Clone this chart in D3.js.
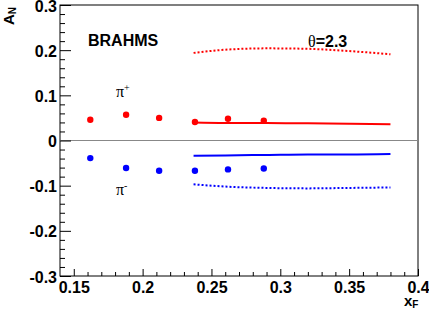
<!DOCTYPE html>
<html>
<head>
<meta charset="utf-8">
<script src="https://cdn.jsdelivr.net/npm/d3@7"></script>
<style>
  body { margin: 0; background: #fff; }
  text { font-family: "Liberation Sans", Arial, sans-serif; }
</style>
</head>
<body>
<div id="chart"></div>
<script>
// data
var xF = [0.162, 0.188, 0.212, 0.238, 0.262, 0.288];
var piPlus = [0.046, 0.057, 0.050, 0.041, 0.048, 0.044];
var piMinus = [-0.039, -0.061, -0.067, -0.067, -0.064, -0.062];
var errPlus = [0.004, 0.004, 0.004, 0.004, 0.004, 0.004];
var errMinus = [0.004, 0.004, 0.004, 0.004, 0.004, 0.004];

var curveX = [0.237, 0.26, 0.29, 0.32, 0.35, 0.38];
var plusSolid = [0.040, 0.039, 0.039, 0.038, 0.037, 0.036];
var plusDotted = [0.194, 0.201, 0.204, 0.203, 0.198, 0.191];
var minusSolid = [-0.034, -0.033, -0.032, -0.031, -0.031, -0.030];
var minusDotted = [-0.097, -0.102, -0.105, -0.106, -0.105, -0.104];

var xMajor = [0.15, 0.2, 0.25, 0.3, 0.35, 0.4];
var yMajor = [-0.3, -0.2, -0.1, 0, 0.1, 0.2, 0.3];
var yLabels = ["-0.3", "-0.2", "-0.1", "0", "0.1", "0.2", "0.3"];

// set the dimensions and margins of the graph
var margin = {top: 5, right: 11, bottom: 34, left: 60},
    width = 429 - margin.left - margin.right,
    height = 310 - margin.top - margin.bottom;

var x = d3.scaleLinear().domain([0.14, 0.4]).range([0, width]);
var y = d3.scaleLinear().domain([-0.3, 0.3]).range([height, 0]);

var svg = d3.select("#chart").append("svg")
    .attr("width", 429)
    .attr("height", 310);
var g = svg.append("g")
    .attr("transform", "translate(" + margin.left + "," + margin.top + ")");

// frame
g.append("rect")
    .attr("x", 0).attr("y", 0)
    .attr("width", width).attr("height", height)
    .attr("fill", "none").attr("stroke", "#000").attr("stroke-width", 1);

// zero line
g.append("line")
    .attr("x1", 0).attr("x2", width)
    .attr("y1", y(0)).attr("y2", y(0))
    .attr("stroke", "#888").attr("stroke-width", 1);

// x axis: major + minor ticks
var xMinor = d3.range(15, 40).map(function(d) { return d / 100; })
    .filter(function(d) { return Math.round(d * 100) % 5 != 0; });
var xAxisG = g.append("g").attr("transform", "translate(0," + height + ")");
xAxisG.call(d3.axisBottom(x).tickValues(xMajor).tickSize(-7).tickPadding(5)
    .tickFormat(function(d) { return String(d); }));
xAxisG.append("g").call(d3.axisBottom(x).tickValues(xMinor).tickSize(-4).tickFormat(""));

// y axis
var yMinor = d3.range(-29, 30).map(function(d) { return d / 100; })
    .filter(function(d) { return Math.round(d * 100) % 2 == 0 && Math.round(d * 100) % 10 != 0; });
var yAxisG = g.append("g");
yAxisG.call(d3.axisLeft(y).tickValues(yMajor).tickSize(-11).tickPadding(3)
    .tickFormat(function(d, i) { return yLabels[i]; }));
yAxisG.append("g").call(d3.axisLeft(y).tickValues(yMinor).tickSize(-5).tickFormat(""));

g.selectAll(".domain").remove();
g.selectAll(".tick line").attr("stroke", "#000");
g.selectAll(".tick text")
    .attr("fill", "#000")
    .style("font-size", "16px")
    .style("font-weight", "bold")
    .style("font-family", "Liberation Sans, Arial, sans-serif");
yAxisG.selectAll(".tick text").attr("dy", "0.38em");
xAxisG.selectAll(".tick text").attr("dy", "0.72em");

// curves
var line = d3.line()
    .x(function(d) { return x(d[0]); })
    .y(function(d) { return y(d[1]); })
    .curve(d3.curveMonotoneX);

function drawCurve(vals, color, dotted) {
    g.append("path")
        .datum(curveX.map(function(v, i) { return [v, vals[i]]; }))
        .attr("d", line)
        .attr("fill", "none")
        .attr("stroke", color)
        .attr("stroke-width", 2)
        .attr("stroke-dasharray", dotted ? "2,2" : null);
}
drawCurve(plusSolid, "#ff0000", false);
drawCurve(plusDotted, "#ff0000", true);
drawCurve(minusSolid, "#0000ff", false);
drawCurve(minusDotted, "#0000ff", true);

// data points
function drawPoints(vals, errs, color) {
    var pts = xF.map(function(v, i) { return {x: v, y: vals[i], e: errs[i]}; });
    g.selectAll(null).data(pts).enter().append("line")
        .attr("x1", function(d) { return x(d.x); })
        .attr("x2", function(d) { return x(d.x); })
        .attr("y1", function(d) { return y(d.y - d.e); })
        .attr("y2", function(d) { return y(d.y + d.e); })
        .attr("stroke", color).attr("stroke-width", 2);
    g.selectAll(null).data(pts).enter().append("circle")
        .attr("r", 3.2)
        .attr("cx", function(d) { return x(d.x); })
        .attr("cy", function(d) { return y(d.y); })
        .attr("fill", color);
}
drawPoints(piPlus, errPlus, "#ff0000");
drawPoints(piMinus, errMinus, "#0000ff");

// labels
g.append("text")
    .attr("x", 28).attr("y", 41)
    .style("font-size", "16px").style("font-weight", "bold")
    .text("BRAHMS");

var theta = g.append("text").attr("x", 248).attr("y", 42)
    .style("font-size", "16px");
theta.append("tspan").style("font-family", "Liberation Serif, Times, serif").text("θ");
theta.append("tspan").style("font-weight", "bold").text("=2.3");

var pp = g.append("text").attr("x", 56).attr("y", 92)
    .style("font-family", "Liberation Serif, Times, serif").style("font-size", "16px");
pp.append("tspan").text("π");
pp.append("tspan").attr("dy", -6).style("font-size", "10px").text("+");

var pm = g.append("text").attr("x", 56).attr("y", 190)
    .style("font-family", "Liberation Serif, Times, serif").style("font-size", "16px");
pm.append("tspan").text("π");
pm.append("tspan").attr("dy", -6).style("font-size", "10px").text("-");

// axis titles
var yt = svg.append("text")
    .attr("transform", "translate(14,25) rotate(-90)")
    .style("font-size", "15px").style("font-weight", "bold");
yt.append("tspan").text("A");
yt.append("tspan").attr("dy", 2).style("font-size", "10px").text("N");

var xt = svg.append("text")
    .attr("x", 404).attr("y", 306)
    .style("font-size", "15px").style("font-weight", "bold");
xt.append("tspan").text("x");
xt.append("tspan").attr("dy", 2).style("font-size", "10px").text("F");
</script>
</body>
</html>
